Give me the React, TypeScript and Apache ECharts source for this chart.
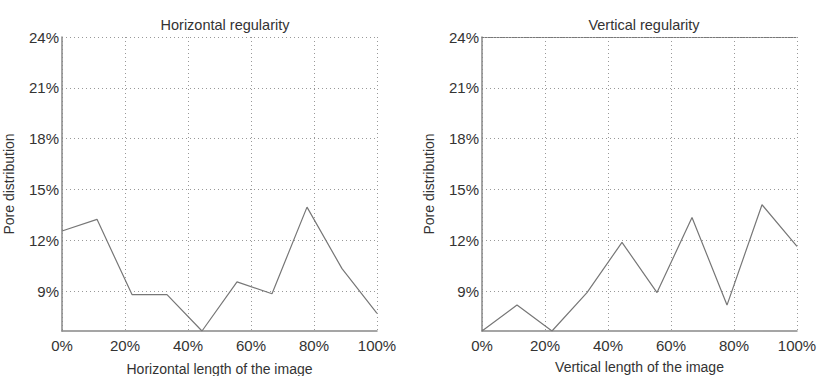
import React, { useEffect, useRef } from "react";
import * as echarts from "echarts";

const xPositions = [0, 11.11, 22.22, 33.33, 44.44, 55.56, 66.67, 77.78, 88.89, 100];
const horizontalValues = [12.55, 13.24, 8.8, 8.8, 6.65, 9.55, 8.85, 13.96, 10.33, 7.69];
const verticalValues = [6.65, 8.18, 6.65, 8.92, 11.88, 8.92, 13.35, 8.18, 14.1, 11.65];
const yTicks = [9, 12, 15, 18, 21, 24];
const titles = ["Horizontal regularity", "Vertical regularity"];
const xNames = ["Horizontal length of the image", "Vertical length of the image"];
const yName = "Pore distribution";
const Y_MIN = 6.65;
const Y_MAX = 24;

export default function App() {
  const ref = useRef<HTMLDivElement>(null);
  useEffect(() => {
    if (!ref.current) return;
    document.body.style.margin = "0";
    const chart = echarts.init(ref.current, null, { renderer: "svg" });
    const font = "'Liberation Sans', Arial, sans-serif";
    const textColor = "#333";
    const gridColor = "#999";
    const axisColor = "#888";
    const grids = [
      { left: 62, width: 315, top: 37, bottom: 45, containLabel: false, outerBoundsMode: "none" },
      { left: 482, width: 315, top: 37, bottom: 45, containLabel: false, outerBoundsMode: "none" },
    ];
    const xAxis: any[] = [0, 1].map((i) => ({
      type: "value",
      gridIndex: i,
      min: 0,
      max: 100,
      interval: 20,
      name: xNames[i],
      nameLocation: "middle",
      nameGap: i === 0 ? 31 : 29,
      nameTextStyle: { fontFamily: font, fontSize: 14, color: textColor },
      axisLine: { show: true, lineStyle: { color: axisColor, width: 1.5 } },
      axisTick: { show: false },
      axisLabel: { formatter: "{value}%", fontFamily: font, fontSize: 15, color: textColor, margin: 7 },
      splitLine: { show: true, lineStyle: { color: gridColor, type: [1, 3], width: 1 } },
    }));
    xAxis.push({
      type: "value",
      gridIndex: 1,
      position: "top",
      min: 0,
      max: 100,
      axisLine: { show: true, lineStyle: { color: "#777", width: 1, type: [2, 1] } },
      axisTick: { show: false },
      axisLabel: { show: false },
      splitLine: { show: false },
    });
    const yAxis = [0, 1].map((i) => ({
      type: "value",
      gridIndex: i,
      min: Y_MIN,
      max: Y_MAX,
      name: yName,
      nameLocation: "middle",
      nameGap: 46,
      nameTextStyle: { fontFamily: font, fontSize: 14, color: textColor },
      axisLine: { show: true, lineStyle: { color: axisColor, width: 1.5 } },
      axisTick: { show: false, customValues: yTicks },
      axisLabel: {
        customValues: yTicks,
        formatter: "{value}%",
        fontFamily: font,
        fontSize: 15,
        color: textColor,
        margin: 3,
      },
      splitLine: { show: true, lineStyle: { color: gridColor, type: [1, 3], width: 1 } },
    }));
    chart.setOption({
      animation: false,
      backgroundColor: "#fff",
      title: [0, 1].map((i) => ({
        text: titles[i],
        left: i === 0 ? 220 : 639,
        textAlign: "center",
        top: 12,
        textStyle: { fontFamily: font, fontSize: 14.5, fontWeight: "normal", color: textColor },
      })),
      grid: grids,
      xAxis,
      yAxis,
      series: [horizontalValues, verticalValues].map((vals, i) => ({
        type: "line",
        xAxisIndex: i,
        yAxisIndex: i,
        data: xPositions.map((x, k) => [x, vals[k]]),
        symbol: "none",
        lineStyle: { color: "#777", width: 1.2 },
      })),
    });
    return () => chart.dispose();
  }, []);
  return <div ref={ref} style={{ width: 818, height: 376 }} />;
}
